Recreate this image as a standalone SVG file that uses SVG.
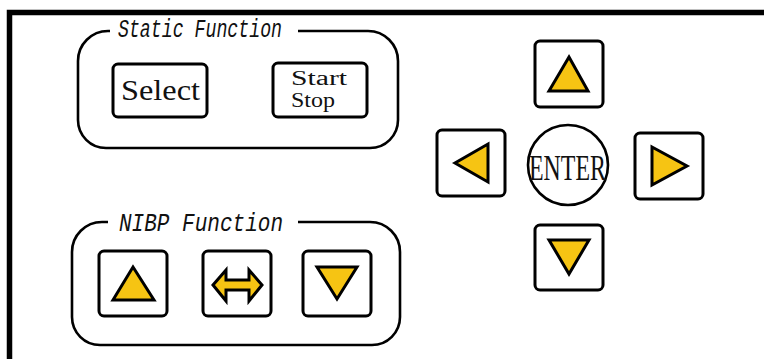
<svg xmlns="http://www.w3.org/2000/svg" width="764" height="359" viewBox="0 0 764 359">
<style>
.frame{fill:none;stroke:#000;stroke-width:5.5}
.grp{fill:none;stroke:#000;stroke-width:2.6}
.btn{fill:#fff;stroke:#000;stroke-width:3}
.tri{fill:#F6C413;stroke:#000;stroke-width:3;stroke-linejoin:miter}
.lbl{font-family:"Liberation Mono",monospace;font-style:italic;fill:#111}
.bt{font-family:"Liberation Serif",serif;fill:#111}
</style>
<rect width="764" height="359" fill="#fff"/>
<g id="frame">
<path class="frame" d="M9.5,359 L9.5,12.5 L764,12.5"/>
</g>
<g id="static-function">
<path class="grp" d="M110,31 L108,31 A30,30 0 0 0 78,61 L78,120 A28,28 0 0 0 106,148 L370,148 A28,28 0 0 0 398,120 L398,61 A30,30 0 0 0 368,31 L298,31"/>
<text class="lbl" x="118" y="37" font-size="26" textLength="164" lengthAdjust="spacingAndGlyphs">Static Function</text>
</g>
<g id="btn-select">
<rect class="btn" x="113" y="64" width="94" height="53" rx="5"/>
<text class="bt" x="121" y="100" font-size="30" textLength="79" lengthAdjust="spacingAndGlyphs">Select</text>
</g>
<g id="btn-startstop">
<rect class="btn" x="273" y="63" width="94" height="54" rx="5"/>
<text class="bt" x="291" y="85" font-size="20" textLength="56" lengthAdjust="spacingAndGlyphs">Start</text>
<text class="bt" x="291" y="107" font-size="20" textLength="44" lengthAdjust="spacingAndGlyphs">Stop</text>
</g>
<g id="nibp-function">
<path class="grp" d="M108,222 L102,222 A30,30 0 0 0 72,252 L72,317 A28,28 0 0 0 100,345 L372,345 A28,28 0 0 0 400,317 L400,252 A30,30 0 0 0 370,222 L298,222"/>
<text class="lbl" x="119" y="231" font-size="26" textLength="164" lengthAdjust="spacingAndGlyphs">NIBP Function</text>
</g>
<g id="nibp-up">
<rect class="btn" x="99" y="251" width="68" height="65" rx="5"/>
<polygon class="tri" points="133,267 154,300 113,300"/>
</g>
<g id="nibp-toggle">
<rect class="btn" x="203" y="251" width="68" height="65" rx="5"/>
<path class="tri" stroke-width="2.6" d="M213,285 L226,270 L226,280 L249,280 L249,270 L262,285 L249,301 L249,290 L226,290 L226,301 Z"/>
</g>
<g id="nibp-down">
<rect class="btn" x="303" y="251" width="68" height="65" rx="5"/>
<polygon class="tri" points="317,267 357,267 337,299"/>
</g>
<g id="nav-up">
<rect class="btn" x="535" y="41" width="68" height="66" rx="5"/>
<polygon class="tri" points="569,57 588,91 549,91"/>
</g>
<g id="nav-left">
<rect class="btn" x="437" y="130" width="68" height="66" rx="5"/>
<polygon class="tri" points="488,144 488,182 455,163"/>
</g>
<g id="nav-enter">
<circle cx="568" cy="165" r="40" fill="#fff" stroke="#000" stroke-width="2.6"/>
<text class="bt" x="529" y="180" font-size="36" textLength="77" lengthAdjust="spacingAndGlyphs">ENTER</text>
</g>
<g id="nav-right">
<rect class="btn" x="635" y="133" width="68" height="66" rx="5"/>
<polygon class="tri" points="652,147 687,166 652,185"/>
</g>
<g id="nav-down">
<rect class="btn" x="535" y="225" width="68" height="65" rx="5"/>
<polygon class="tri" points="549,240 589,240 569,274"/>
</g>
<g id="connectors"/>
</svg>
